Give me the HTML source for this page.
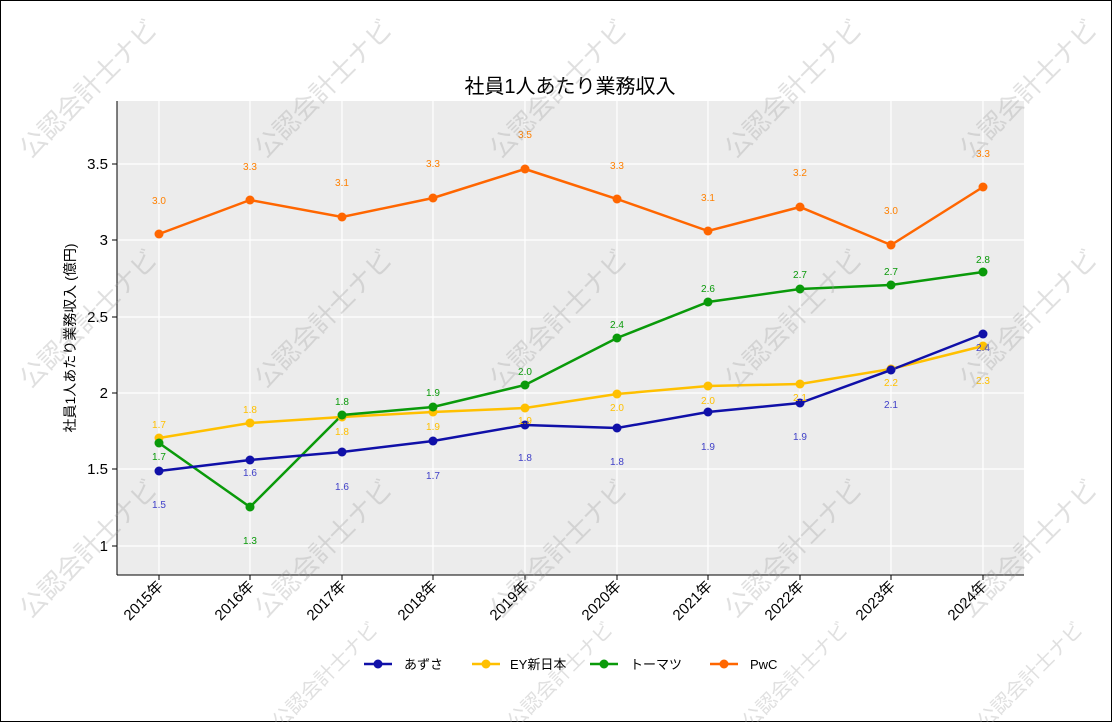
<!DOCTYPE html>
<html><head><meta charset="utf-8"><style>
html,body{margin:0;padding:0;background:#fff;overflow:hidden;width:1112px;height:722px}
svg{display:block;overflow:hidden}
svg text{font-family:"Liberation Sans","Noto Sans CJK JP",sans-serif}
</style></head><body>
<svg width="1112" height="722" xmlns="http://www.w3.org/2000/svg">
<rect x="0.5" y="0.5" width="1111" height="721" fill="#fff" stroke="#000"/>
<rect x="117" y="101" width="907" height="474" fill="#ececec"/>
<g stroke="#fff" stroke-width="1.2">
<line x1="117" x2="1024" y1="546" y2="546"/><line x1="117" x2="1024" y1="469" y2="469"/><line x1="117" x2="1024" y1="393" y2="393"/><line x1="117" x2="1024" y1="317" y2="317"/><line x1="117" x2="1024" y1="240" y2="240"/><line x1="117" x2="1024" y1="164" y2="164"/>
<line y1="101" y2="575" x1="159" x2="159"/><line y1="101" y2="575" x1="250" x2="250"/><line y1="101" y2="575" x1="342" x2="342"/><line y1="101" y2="575" x1="433" x2="433"/><line y1="101" y2="575" x1="525" x2="525"/><line y1="101" y2="575" x1="617" x2="617"/><line y1="101" y2="575" x1="708" x2="708"/><line y1="101" y2="575" x1="800" x2="800"/><line y1="101" y2="575" x1="891" x2="891"/><line y1="101" y2="575" x1="983" x2="983"/>
</g>
<g stroke="#000" stroke-width="1"><line x1="117" y1="101" x2="117" y2="575"/><line x1="117" y1="575" x2="1024" y2="575"/>
<line x1="112" x2="117" y1="546" y2="546"/><line x1="112" x2="117" y1="469" y2="469"/><line x1="112" x2="117" y1="393" y2="393"/><line x1="112" x2="117" y1="317" y2="317"/><line x1="112" x2="117" y1="240" y2="240"/><line x1="112" x2="117" y1="164" y2="164"/>
<line y1="575" y2="580" x1="159" x2="159"/><line y1="575" y2="580" x1="250" x2="250"/><line y1="575" y2="580" x1="342" x2="342"/><line y1="575" y2="580" x1="433" x2="433"/><line y1="575" y2="580" x1="525" x2="525"/><line y1="575" y2="580" x1="617" x2="617"/><line y1="575" y2="580" x1="708" x2="708"/><line y1="575" y2="580" x1="800" x2="800"/><line y1="575" y2="580" x1="891" x2="891"/><line y1="575" y2="580" x1="983" x2="983"/></g>
<g font-size="15" text-anchor="end" fill="#000">
<text x="108" y="551">1</text><text x="108" y="474">1.5</text><text x="108" y="398">2</text><text x="108" y="322">2.5</text><text x="108" y="245">3</text><text x="108" y="169">3.5</text></g>
<g font-size="15" text-anchor="end" fill="#000">
<text transform="translate(164,587) rotate(-45)">2015年</text><text transform="translate(255,587) rotate(-45)">2016年</text><text transform="translate(347,587) rotate(-45)">2017年</text><text transform="translate(438,587) rotate(-45)">2018年</text><text transform="translate(530,587) rotate(-45)">2019年</text><text transform="translate(622,587) rotate(-45)">2020年</text><text transform="translate(713,587) rotate(-45)">2021年</text><text transform="translate(805,587) rotate(-45)">2022年</text><text transform="translate(896,587) rotate(-45)">2023年</text><text transform="translate(988,587) rotate(-45)">2024年</text></g>
<text x="570" y="93" font-size="20" text-anchor="middle">社員1人あたり業務収入</text>
<text transform="translate(75,338) rotate(-90)" font-size="14" text-anchor="middle">社員1人あたり業務収入 (億円)</text>
<g fill="none" stroke-width="2.5">
<polyline stroke="#ff6600" points="159,234 250,200 342,217 433,198 525,169 617,199 708,231 800,207 891,245 983,187"/>
<polyline stroke="#ffc000" points="159,438 250,423 342,417 433,412 525,408 617,394 708,386 800,384 891,369 983,346"/>
<polyline stroke="#0a9a0a" points="159,443 250,507 342,415 433,407 525,385 617,338 708,302 800,289 891,285 983,272"/>
<polyline stroke="#1010a8" points="159,471 250,460 342,452 433,441 525,425 617,428 708,412 800,403 891,370 983,334"/>
</g>
<g fill="#ff6600"><circle cx="159" cy="234" r="4.5"/><circle cx="250" cy="200" r="4.5"/><circle cx="342" cy="217" r="4.5"/><circle cx="433" cy="198" r="4.5"/><circle cx="525" cy="169" r="4.5"/><circle cx="617" cy="199" r="4.5"/><circle cx="708" cy="231" r="4.5"/><circle cx="800" cy="207" r="4.5"/><circle cx="891" cy="245" r="4.5"/><circle cx="983" cy="187" r="4.5"/></g>
<g fill="#ffc000"><circle cx="159" cy="438" r="4.5"/><circle cx="250" cy="423" r="4.5"/><circle cx="342" cy="417" r="4.5"/><circle cx="433" cy="412" r="4.5"/><circle cx="525" cy="408" r="4.5"/><circle cx="617" cy="394" r="4.5"/><circle cx="708" cy="386" r="4.5"/><circle cx="800" cy="384" r="4.5"/><circle cx="891" cy="369" r="4.5"/><circle cx="983" cy="346" r="4.5"/></g>
<g fill="#0a9a0a"><circle cx="159" cy="443" r="4.5"/><circle cx="250" cy="507" r="4.5"/><circle cx="342" cy="415" r="4.5"/><circle cx="433" cy="407" r="4.5"/><circle cx="525" cy="385" r="4.5"/><circle cx="617" cy="338" r="4.5"/><circle cx="708" cy="302" r="4.5"/><circle cx="800" cy="289" r="4.5"/><circle cx="891" cy="285" r="4.5"/><circle cx="983" cy="272" r="4.5"/></g>
<g fill="#1010a8"><circle cx="159" cy="471" r="4.5"/><circle cx="250" cy="460" r="4.5"/><circle cx="342" cy="452" r="4.5"/><circle cx="433" cy="441" r="4.5"/><circle cx="525" cy="425" r="4.5"/><circle cx="617" cy="428" r="4.5"/><circle cx="708" cy="412" r="4.5"/><circle cx="800" cy="403" r="4.5"/><circle cx="891" cy="370" r="4.5"/><circle cx="983" cy="334" r="4.5"/></g>
<g font-size="10" text-anchor="middle">
<g fill="#ff8000"><text x="159" y="204">3.0</text><text x="250" y="170">3.3</text><text x="342" y="186">3.1</text><text x="433" y="167">3.3</text><text x="525" y="138">3.5</text><text x="617" y="169">3.3</text><text x="708" y="201">3.1</text><text x="800" y="176">3.2</text><text x="891" y="214">3.0</text><text x="983" y="157">3.3</text></g>
<g fill="#0a9a0a"><text x="159" y="460">1.7</text><text x="250" y="544">1.3</text><text x="342" y="405">1.8</text><text x="433" y="396">1.9</text><text x="525" y="375">2.0</text><text x="617" y="328">2.4</text><text x="708" y="292">2.6</text><text x="800" y="278">2.7</text><text x="891" y="275">2.7</text><text x="983" y="263">2.8</text></g>
<g fill="#ffc000"><text x="159" y="428">1.7</text><text x="250" y="413">1.8</text><text x="342" y="435">1.8</text><text x="433" y="430">1.9</text><text x="525" y="424">1.9</text><text x="617" y="411">2.0</text><text x="708" y="404">2.0</text><text x="800" y="401">2.1</text><text x="891" y="386">2.2</text><text x="983" y="384">2.3</text></g>
<g fill="#4040c8"><text x="159" y="508">1.5</text><text x="250" y="476">1.6</text><text x="342" y="490">1.6</text><text x="433" y="479">1.7</text><text x="525" y="461">1.8</text><text x="617" y="465">1.8</text><text x="708" y="450">1.9</text><text x="800" y="440">1.9</text><text x="891" y="408">2.1</text><text x="983" y="351">2.4</text></g>
</g>
<g font-size="13" fill="#000">
<line x1="364" y1="664" x2="392" y2="664" stroke="#1010a8" stroke-width="2.5"/><circle cx="378" cy="664" r="4.5" fill="#1010a8"/><text x="404" y="669">あずさ</text>
<line x1="472" y1="664" x2="500" y2="664" stroke="#ffc000" stroke-width="2.5"/><circle cx="486" cy="664" r="4.5" fill="#ffc000"/><text x="510" y="669">EY新日本</text>
<line x1="590" y1="664" x2="618" y2="664" stroke="#0a9a0a" stroke-width="2.5"/><circle cx="604" cy="664" r="4.5" fill="#0a9a0a"/><text x="630" y="669">トーマツ</text>
<line x1="710" y1="664" x2="738" y2="664" stroke="#ff6600" stroke-width="2.5"/><circle cx="724" cy="664" r="4.5" fill="#ff6600"/><text x="750" y="669">PwC</text>
</g>
<g font-size="26" fill="#999" fill-opacity="0.3" text-anchor="middle">
<text transform="translate(95,95) rotate(-45)">公認会計士ナビ</text><text transform="translate(330,95) rotate(-45)">公認会計士ナビ</text><text transform="translate(565,95) rotate(-45)">公認会計士ナビ</text><text transform="translate(800,95) rotate(-45)">公認会計士ナビ</text><text transform="translate(1035,95) rotate(-45)">公認会計士ナビ</text>
<text transform="translate(95,325) rotate(-45)">公認会計士ナビ</text><text transform="translate(330,325) rotate(-45)">公認会計士ナビ</text><text transform="translate(565,325) rotate(-45)">公認会計士ナビ</text><text transform="translate(800,325) rotate(-45)">公認会計士ナビ</text><text transform="translate(1035,325) rotate(-45)">公認会計士ナビ</text>
<text transform="translate(95,555) rotate(-45)">公認会計士ナビ</text><text transform="translate(330,555) rotate(-45)">公認会計士ナビ</text><text transform="translate(565,555) rotate(-45)">公認会計士ナビ</text><text transform="translate(800,555) rotate(-45)">公認会計士ナビ</text><text transform="translate(1035,555) rotate(-45)">公認会計士ナビ</text>
<text transform="translate(330,680) rotate(-45)" font-size="20">公認会計士ナビ</text><text transform="translate(565,680) rotate(-45)" font-size="20">公認会計士ナビ</text><text transform="translate(800,680) rotate(-45)" font-size="20">公認会計士ナビ</text><text transform="translate(1035,680) rotate(-45)" font-size="20">公認会計士ナビ</text>
</g>
</svg>
</body></html>
